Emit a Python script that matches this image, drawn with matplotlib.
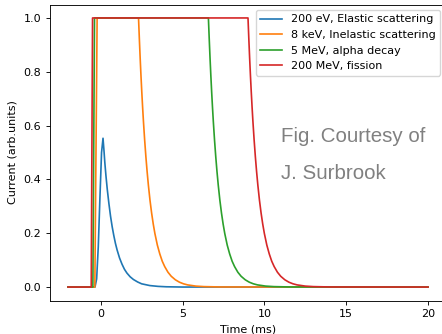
import matplotlib
matplotlib.use('Agg')
import matplotlib.pyplot as plt

# values (time in ms, current in arb. units)
labels = ['200 eV, Elastic scattering', '8 keV, Inelastic scattering',
          '5 MeV, alpha decay', '200 MeV, fission']

t_elastic = [-2.0, -0.35, -0.25, -0.15, -0.05, 0.05, 0.14, 0.2, 0.25, 0.32, 0.4,
             0.5, 0.6, 0.7, 0.8, 0.9, 1.0, 1.15, 1.3, 1.45, 1.6, 1.8, 2.0, 2.25,
             2.5, 3.0, 3.5, 4.0, 5.0, 20.0]
i_elastic = [0.0, 0.0, 0.03, 0.15, 0.33, 0.50, 0.553, 0.506, 0.463, 0.413, 0.363,
             0.310, 0.263, 0.224, 0.191, 0.162, 0.138, 0.108, 0.085, 0.066, 0.052,
             0.038, 0.028, 0.019, 0.012, 0.0055, 0.0025, 0.001, 0.0, 0.0]

# falling edges: time after the end of the flat top, and the current there
fall_dt = [0.0, 0.05, 0.1, 0.15, 0.2, 0.25, 0.3, 0.375, 0.45, 0.525, 0.6, 0.7,
           0.8, 0.9, 1.0, 1.15, 1.3, 1.45, 1.6, 1.8, 2.0, 2.25, 2.5, 2.75, 3.0,
           3.5, 4.0, 5.0]
fall_i = [1.0, 0.923, 0.851, 0.785, 0.724, 0.668, 0.616, 0.546, 0.484, 0.429,
          0.380, 0.323, 0.275, 0.234, 0.199, 0.156, 0.123, 0.096, 0.076, 0.055,
          0.040, 0.027, 0.018, 0.012, 0.008, 0.0035, 0.0016, 0.0003]

# rise start, rise end (flat top begins), flat top end
inelastic_edges = [-0.36, -0.22, 2.31]
alpha_edges = [-0.48, -0.38, 6.58]
fission_edges = [-0.58, -0.50, 9.0]


def pulse(edges):
    t = [-2.0, edges[0], edges[1]] + [edges[2] + d for d in fall_dt] + [20.0]
    i = [0.0, 0.0, 1.0] + fall_i + [0.0]
    return t, i


plt.rcParams['font.size'] = 8
plt.rcParams['axes.linewidth'] = 0.64
plt.rcParams['xtick.major.width'] = 0.64
plt.rcParams['ytick.major.width'] = 0.64
plt.rcParams['xtick.major.size'] = 2.8
plt.rcParams['ytick.major.size'] = 2.8

fig = plt.figure(figsize=(4.42, 3.34), dpi=100)
ax = fig.add_axes([50 / 442, 33.5 / 334, 396 / 442, 296 / 334])

ax.plot(t_elastic, i_elastic, lw=1.2, label=labels[0])
for edges, lab in zip([inelastic_edges, alpha_edges, fission_edges], labels[1:]):
    t, i = pulse(edges)
    ax.plot(t, i, lw=1.2, label=lab)

ax.set_xlabel('Time (ms)')
ax.set_ylabel('Current (arb.units)')
ax.legend(loc='upper right')

ax.text(11.0, 0.538, 'Fig. Courtesy of', family='Liberation Sans', fontsize=14.8,
        color='gray', va='baseline')
ax.text(11.0, 0.403, 'J. Surbrook', family='Liberation Sans', fontsize=14.8,
        color='gray', va='baseline')

fig.savefig('out.png', dpi=100)
